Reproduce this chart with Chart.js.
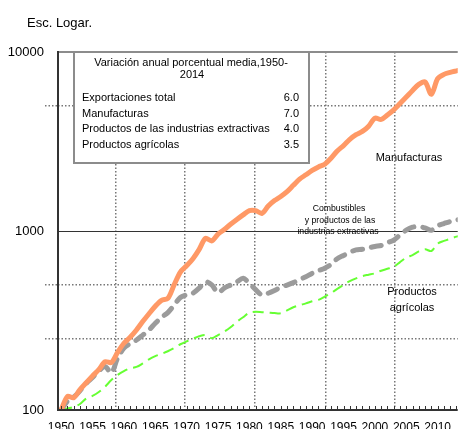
<!DOCTYPE html>
<html lang="es">
<head>
<meta charset="UTF-8">
<title>Exportaciones mundiales por grupo de productos, 1950-2014</title>
<script src="https://cdn.jsdelivr.net/npm/chart.js"></script>
<style>
    body { margin: 0; background: #fff; }
    #wrap { width: 461px; height: 429px; }
</style>
</head>
<body>
<div id="wrap"><canvas id="grafico" width="461" height="429"></canvas></div>
<script>
// Índice de volumen, 1950 = 100 (escala logarítmica)
const years = Array.from({ length: 65 }, (_, i) => 1950 + i);

const manufacturas = [
    100, 119, 117, 130, 142, 155, 168, 186, 184, 210,
    236, 255, 280, 312, 345, 380, 410, 420, 500, 590,
    640, 700, 790, 910, 880, 960, 1020, 1090, 1160, 1230,
    1300, 1300, 1255, 1380, 1480, 1560, 1660, 1800, 1950, 2060,
    2180, 2280, 2360, 2550, 2800, 3000, 3250, 3450, 3600, 3850,
    4270, 4200, 4450, 4750, 5150, 5600, 6100, 6600, 6800, 5800,
    7100, 7500, 7700, 7850, 8000
];
const combustibles = [
    100, 112, 118, 128, 141, 152, 165, 175, 161, 195,
    222, 235, 246, 262, 280, 305, 330, 350, 385, 425,
    440, 449, 480, 521, 500, 452, 480, 499, 520, 544,
    510, 470, 439, 449, 465, 485, 499, 515, 535, 555,
    580, 600, 620, 650, 700, 730, 760, 784, 790, 805,
    820, 830, 860, 890, 950, 1010, 1050, 1060, 1040, 1010,
    1070, 1100, 1130, 1150, 1170
];
const agricolas = [
    100, 102, 104, 108, 116, 120, 126, 135, 147, 157,
    165, 171, 174, 182, 192, 200, 206, 213, 222, 233,
    242, 250, 258, 262, 252, 262, 274, 290, 311, 330,
    350, 354, 352, 350, 348, 347, 360, 375, 385, 394,
    405, 412, 430, 450, 475, 500, 525, 544, 560, 570,
    580, 600, 615, 631, 670, 710, 734, 770, 790, 773,
    850, 880, 905, 930, 950
];

const xTickLabels = [1950, 1955, 1960, 1965, 1970, 1975, 1980, 1985, 1990, 1995, 2000, 2005, 2010];
const xGridYears = [1958.7, 1969.7, 1980.9, 1992.2, 2003.2];
const yTickLabels = [100, 1000, 10000];
const yGridValues = [250, 500, 5000];

const legendTitle = ['Variación anual porcentual media,1950-', '2014'];
const legendRows = ['Exportaciones total', 'Manufacturas', 'Productos de las industrias extractivas', 'Productos agrícolas'];
const legendValues = ['6.0', '7.0', '4.0', '3.5'];

const FONT = "'Liberation Sans', Arial, sans-serif";
const GRID = '#777';

function toPoints(values) {
    return values.map((v, i) => ({ x: years[i], y: v }));
}

const decor = {
    id: 'decor',
    beforeDatasetsDraw(chart) {
        const { ctx, chartArea: a, scales: { y } } = chart;
        const y1000 = Math.round(y.getPixelForValue(1000)) + 0.5;
        ctx.save();
        ctx.strokeStyle = '#333';
        ctx.lineWidth = 1;
        ctx.beginPath();
        ctx.moveTo(a.left, y1000);
        ctx.lineTo(a.right, y1000);
        ctx.stroke();
        ctx.restore();
    },
    afterDatasetsDraw(chart) {
        const { ctx, chartArea: a, scales: { x } } = chart;
        const line = (x1, y1, x2, y2) => {
            ctx.beginPath(); ctx.moveTo(x1, y1); ctx.lineTo(x2, y2); ctx.stroke();
        };
        ctx.save();

        // marco: borde superior gris, ejes oscuros
        ctx.lineWidth = 2;
        ctx.strokeStyle = '#8c8c8c';
        line(a.left, a.top, a.right, a.top);
        ctx.strokeStyle = '#333';
        line(a.left, a.top - 1, a.left, a.bottom + 1);
        line(a.left, a.bottom, a.right, a.bottom);

        // marcas anuales hacia dentro
        ctx.lineWidth = 1;
        years.forEach(yr => {
            if (yr > x.max) return;
            const px = Math.round(x.getPixelForValue(yr)) + 0.5;
            line(px, a.bottom, px, a.bottom - 4);
        });

        // cuadro de tasas
        ctx.fillStyle = '#fff';
        ctx.fillRect(74, 52, 235, 111);
        ctx.strokeStyle = '#8c8c8c';
        ctx.lineWidth = 2;
        ctx.strokeRect(74, 52, 235, 111);

        ctx.fillStyle = '#000';
        ctx.font = '11px ' + FONT;
        ctx.textBaseline = 'middle';
        ctx.textAlign = 'center';
        ctx.fillText(legendTitle[0], 191, 63);
        ctx.fillText(legendTitle[1], 192, 75);
        legendRows.forEach((t, i) => {
            const ty = 98 + i * 15.6;
            ctx.textAlign = 'left';
            ctx.fillText(t, 82, ty);
            ctx.textAlign = 'right';
            ctx.fillText(legendValues[i], 299, ty);
        });

        // rótulos de las series
        ctx.textAlign = 'center';
        ctx.fillText('Manufacturas', 409, 158);
        ctx.fillText('Productos', 412, 292);
        ctx.fillText('agrícolas', 412, 308);
        ctx.font = '8.7px ' + FONT;
        ctx.fillText('Combustibles', 339, 209);
        ctx.fillText('y productos de las', 340, 220.5);
        ctx.fillText('industrias extractivas', 338, 232);

        // título del eje
        ctx.textAlign = 'left';
        ctx.font = '13px ' + FONT;
        ctx.fillText('Esc. Logar.', 27, 23);

        ctx.restore();
    }
};

new Chart(document.getElementById('grafico'), {
    type: 'line',
    data: {
        datasets: [
            {
                label: 'Manufacturas',
                data: toPoints(manufacturas),
                borderColor: '#FF9966',
                borderWidth: 5,
                order: 1
            },
            {
                label: 'Combustibles y productos de las industrias extractivas',
                data: toPoints(combustibles),
                borderColor: '#9b9b9b',
                borderWidth: 5,
                borderDash: [10, 9],
                borderCapStyle: 'round',
                order: 2
            },
            {
                label: 'Productos agrícolas',
                data: toPoints(agricolas),
                borderColor: '#66FF33',
                borderWidth: 2,
                borderDash: [11, 6],
                order: 3
            }
        ]
    },
    options: {
        responsive: false,
        animation: false,
        layout: { padding: { top: 52, right: 0, bottom: 0, left: 0 } },
        elements: {
            point: { radius: 0 },
            line: { tension: 0.3, fill: false }
        },
        plugins: {
            legend: { display: false },
            tooltip: { enabled: false }
        },
        scales: {
            x: {
                type: 'linear',
                min: 1949.5,
                max: 2013.2,
                afterBuildTicks: s => {
                    s.ticks = xTickLabels.concat(xGridYears)
                        .sort((p, q) => p - q)
                        .map(v => ({ value: v }));
                },
                ticks: {
                    autoSkip: false,
                    maxRotation: 0,
                    padding: 10,
                    color: '#000',
                    font: { family: FONT, size: 12 },
                    callback: v => xTickLabels.includes(v) ? String(v) : ''
                },
                grid: {
                    color: c => (c.tick && xGridYears.includes(c.tick.value)) ? GRID : 'rgba(0,0,0,0)',
                    lineWidth: 1.5,
                    drawTicks: false
                },
                border: { display: false, dash: [1.5, 2] },
                afterFit: s => { s.height = 19; }
            },
            y: {
                type: 'logarithmic',
                min: 100,
                max: 10000,
                afterBuildTicks: s => {
                    s.ticks = yTickLabels.concat(yGridValues)
                        .sort((p, q) => p - q)
                        .map(v => ({ value: v }));
                },
                ticks: {
                    padding: 1,
                    color: '#000',
                    font: { family: FONT, size: 13 },
                    callback: v => yTickLabels.includes(v) ? String(v) : ''
                },
                grid: {
                    color: c => (c.tick && yGridValues.includes(c.tick.value)) ? GRID : 'rgba(0,0,0,0)',
                    tickColor: c => (c.tick && yGridValues.includes(c.tick.value)) ? GRID : 'rgba(0,0,0,0)',
                    lineWidth: 1.5,
                    tickLength: 13,
                    tickBorderDash: [1.5, 2]
                },
                border: { display: false, dash: [1.5, 2] },
                afterFit: s => { s.width = 58; }
            }
        }
    },
    plugins: [decor]
});
</script>
</body>
</html>
